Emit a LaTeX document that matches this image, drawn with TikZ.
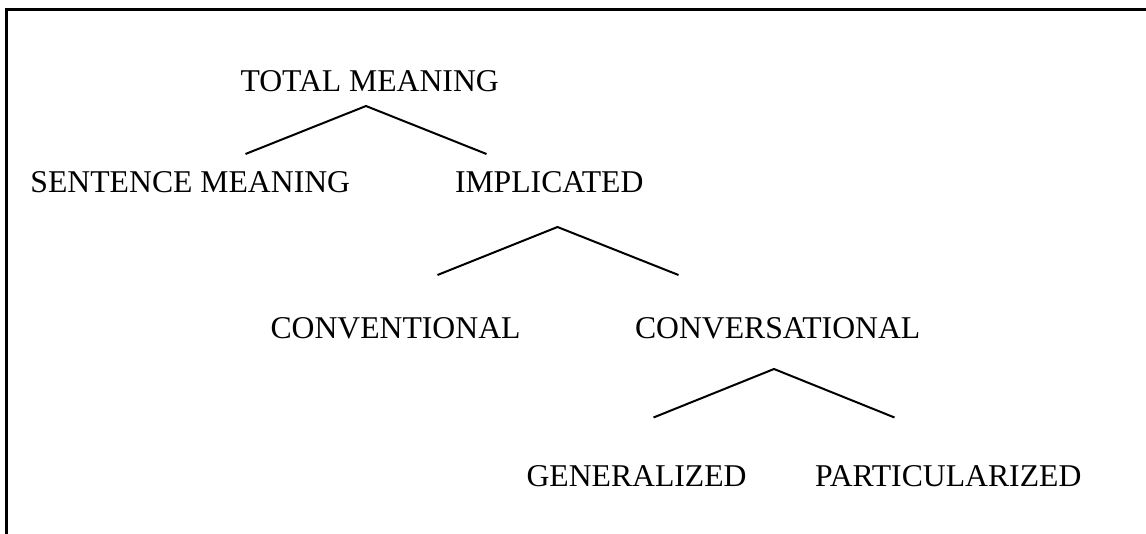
\documentclass[tikz,border=0pt]{standalone}
\usepackage{fontspec}
\setmainfont{Liberation Serif}
\begin{document}
\begin{tikzpicture}[x=1pt,y=-1pt,
  lbl/.style={anchor=base west,inner sep=0pt,outer sep=0pt,font=\fontsize{31.7}{38}\selectfont},
  branch/.style={line width=2pt,line join=miter},
  frameline/.style={line width=3pt}]
\useasboundingbox (0,0) rectangle (1146,533);
% frame (open at right and bottom)
\coordinate (fb) at (6.5,534);
\coordinate (fc) at (6.5,9.5);
\coordinate (fr) at (1147,9.5);
\draw[frameline] (fb) -- (fc) -- (fr);
% labels
\node[lbl] (tm) at (240.5,91) {TOTAL MEANING};
\node[lbl] (sm) at (30.5,192) {SENTENCE MEANING};
\node[lbl] (imp) at (455,192) {IMPLICATED};
\node[lbl] (conv) at (270.5,338.5) {CONVENTIONAL};
\node[lbl] (convs) at (635,338.5) {CONVERSATIONAL};
\node[lbl] (gen) at (526.5,486) {GENERALIZED};
\node[lbl] (part) at (815,486) {PARTICULARIZED};
% branch points
\coordinate (tm-apex) at (366,106);
\coordinate (sm-top) at (245.5,154);
\coordinate (imp-top) at (486.5,154);
\coordinate (imp-apex) at (557.5,227);
\coordinate (conv-top) at (437.5,275);
\coordinate (convs-top) at (678.5,275);
\coordinate (convs-apex) at (774,369);
\coordinate (gen-top) at (653.5,417.5);
\coordinate (part-top) at (894.5,417.5);
% branches
\draw[branch] (sm-top) -- (tm-apex) -- (imp-top);
\draw[branch] (conv-top) -- (imp-apex) -- (convs-top);
\draw[branch] (gen-top) -- (convs-apex) -- (part-top);
\end{tikzpicture}
\end{document}
